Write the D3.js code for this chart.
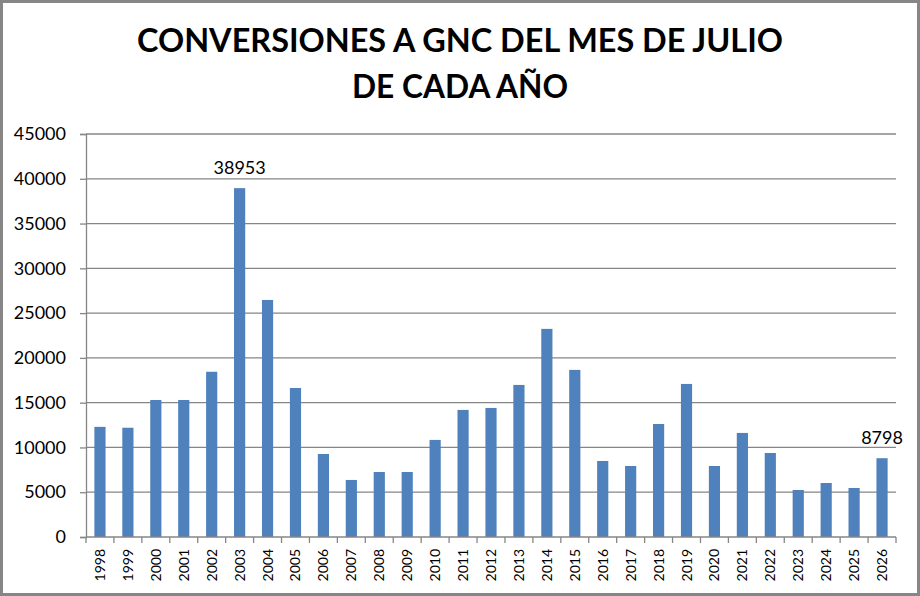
<!DOCTYPE html>
<html>
<head>
<meta charset="utf-8">
<script src="https://cdn.jsdelivr.net/npm/d3@7/dist/d3.min.js"></script>
<style>
  html, body { margin: 0; padding: 0; background: #fff; }
  svg { display: block; }
</style>
</head>
<body>
<div id="chart"></div>
<script>
// data
const years = ["1998", "1999", "2000", "2001", "2002", "2003", "2004", "2005", "2006", "2007",
  "2008", "2009", "2010", "2011", "2012", "2013", "2014", "2015", "2016", "2017",
  "2018", "2019", "2020", "2021", "2022", "2023", "2024", "2025", "2026"];
const conversions = [12300, 12200, 15300, 15300, 18450, 38953, 26470, 16640, 9270, 6370,
  7260, 7260, 10840, 14190, 14410, 16980, 23240, 18660, 8490, 7930,
  12620, 17090, 7930, 11620, 9380, 5250, 6030, 5470, 8798];
const labelledYears = ["2003", "2026"];
const yTicks = [0, 5000, 10000, 15000, 20000, 25000, 30000, 35000, 40000, 45000];
const titleLines = ["CONVERSIONES A GNC DEL MES DE JULIO", "DE CADA AÑO"];

const W = 920, H = 596;
const margin = { top: 134, right: 24, bottom: 59, left: 86 };
const width = W - margin.left - margin.right;
const height = H - margin.top - margin.bottom;
const grey = "#868686";

const svg = d3.select("#chart").append("svg")
  .attr("width", W)
  .attr("height", H);

// outer frame
svg.append("rect")
  .attr("x", 1.5).attr("y", 1.5)
  .attr("width", W - 3).attr("height", H - 3)
  .attr("fill", "#fff")
  .attr("stroke", grey)
  .attr("stroke-width", 3);

// title
svg.append("g").selectAll("text")
  .data(titleLines)
  .join("text")
  .attr("x", W / 2)
  .attr("y", (d, i) => 52 + i * 46)
  .attr("text-anchor", "middle")
  .attr("textLength", (d, i) => i === 0 ? 646 : 216)
  .attr("lengthAdjust", "spacingAndGlyphs")
  .style("font-family", "Lato, 'Open Sans', sans-serif")
  .style("font-weight", "bold")
  .style("font-size", "33px")
  .attr("fill", "#000")
  .text(d => d);

const g = svg.append("g")
  .attr("transform", `translate(${margin.left},${margin.top})`);

const x = d3.scaleBand()
  .domain(years)
  .range([0, width])
  .paddingInner(0.6)
  .paddingOuter(0.3);

const y = d3.scaleLinear()
  .domain([0, 45000])
  .range([height, 0]);

// gridlines
g.append("g").selectAll("line")
  .data(yTicks.slice(1))
  .join("line")
  .attr("x1", 0).attr("x2", width)
  .attr("y1", d => y(d)).attr("y2", d => y(d))
  .attr("stroke", grey)
  .attr("stroke-width", 1.3);

// bars
g.append("g").selectAll("rect")
  .data(years)
  .join("rect")
  .attr("x", d => x(d))
  .attr("y", (d, i) => y(conversions[i]))
  .attr("width", x.bandwidth())
  .attr("height", (d, i) => y(0) - y(conversions[i]))
  .attr("fill", "#4f81bd");

// data labels
g.append("g").selectAll("text")
  .data(labelledYears)
  .join("text")
  .attr("x", d => x(d) + x.bandwidth() / 2)
  .attr("y", d => y(conversions[years.indexOf(d)]) - 14)
  .attr("text-anchor", "middle")
  .style("font-family", "Lato, 'Open Sans', sans-serif")
  .style("font-size", "18px")
  .attr("fill", "#000")
  .text(d => conversions[years.indexOf(d)]);

// y axis
const yAxis = g.append("g")
  .call(d3.axisLeft(y).tickValues(yTicks).tickSize(6).tickPadding(14).tickFormat(d3.format("d")));
yAxis.selectAll("path, line").attr("stroke", grey).attr("stroke-width", 1.3);
yAxis.selectAll("text")
  .style("font-family", "Lato, 'Open Sans', sans-serif")
  .style("font-size", "18px")
  .attr("fill", "#000");

// x axis: line plus ticks between categories
const xAxis = g.append("g").attr("transform", `translate(0,${height})`);
xAxis.append("line")
  .attr("x1", 0).attr("x2", width)
  .attr("stroke", grey).attr("stroke-width", 1.3);
const step = x.step();
xAxis.selectAll(".sep")
  .data(d3.range(years.length + 1))
  .join("line")
  .attr("class", "sep")
  .attr("x1", i => i === years.length ? width : x(years[i]) - x.bandwidth() * 0.75)
  .attr("x2", i => i === years.length ? width : x(years[i]) - x.bandwidth() * 0.75)
  .attr("y1", 0).attr("y2", 6)
  .attr("stroke", grey).attr("stroke-width", 1.3);
xAxis.selectAll(".lab")
  .data(years)
  .join("text")
  .attr("class", "lab")
  .attr("transform", d => `translate(${x(d) + x.bandwidth() / 2 + 5},12) rotate(-90)`)
  .attr("text-anchor", "end")
  .style("font-family", "Lato, 'Open Sans', sans-serif")
  .style("font-size", "14px")
  .attr("fill", "#000")
  .text(d => d);
</script>
</body>
</html>
